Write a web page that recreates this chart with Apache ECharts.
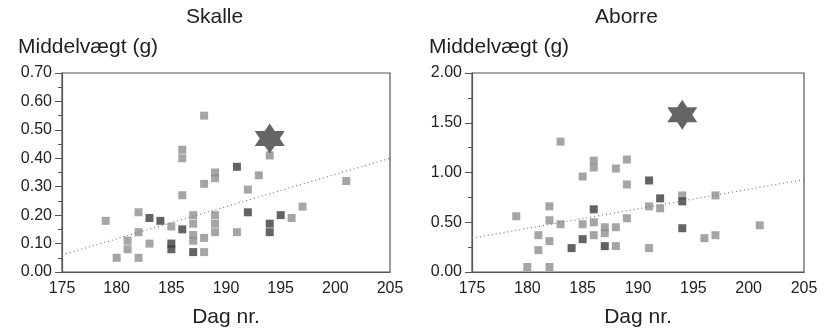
<!DOCTYPE html>
<html>
<head>
<meta charset="utf-8">
<script src="https://cdn.jsdelivr.net/npm/echarts@6/dist/echarts.min.js"></script>
<style>
  html, body { margin: 0; padding: 0; background: #fff; }
  #chart { width: 824px; height: 333px; }
</style>
</head>
<body>
<div id="chart"></div>
<script>
// Skalle: [dag, middelvægt]
const skalleLight = [
  [179, 0.18], [180, 0.05], [181, 0.11], [181, 0.08], [182, 0.21], [182, 0.14],
  [182, 0.05], [183, 0.10], [185, 0.16], [186, 0.43], [186, 0.40], [186, 0.27],
  [187, 0.20], [187, 0.17], [187, 0.13], [187, 0.11], [188, 0.55], [188, 0.31],
  [188, 0.12], [188, 0.07], [189, 0.35], [189, 0.33], [189, 0.20], [189, 0.17],
  [189, 0.14], [191, 0.14], [192, 0.29], [193, 0.34], [194, 0.41], [196, 0.19],
  [197, 0.23], [201, 0.32]
]
const skalleDark = [
  [183, 0.19], [184, 0.18], [185, 0.10], [185, 0.08], [186, 0.15], [187, 0.07],
  [191, 0.37], [192, 0.21], [194, 0.17], [194, 0.14], [195, 0.20]
]
const skalleStar = [[194, 0.47]]
const skalleTrend = [[175, 0.06], [205, 0.40]]

// Aborre: [dag, middelvægt]
const aborreLight = [
  [179, 0.56], [180, 0.05], [181, 0.37], [181, 0.22], [182, 0.66], [182, 0.52],
  [182, 0.31], [182, 0.05], [183, 1.31], [183, 0.48], [185, 0.96], [185, 0.48],
  [186, 1.12], [186, 1.05], [186, 0.50], [186, 0.37], [187, 0.45], [187, 0.39],
  [188, 1.04], [188, 0.45], [188, 0.26], [189, 1.13], [189, 0.88], [189, 0.54],
  [191, 0.66], [191, 0.24], [192, 0.64], [194, 0.77], [196, 0.34], [197, 0.77],
  [197, 0.37], [201, 0.47]
]
const aborreDark = [
  [184, 0.24], [185, 0.33], [186, 0.63], [187, 0.26], [191, 0.92], [192, 0.74],
  [194, 0.71], [194, 0.44]
]
const aborreStar = [[194, 1.58]]
const aborreTrend = [[175, 0.34], [205, 0.93]]

const xTicks = [175, 180, 185, 190, 195, 200, 205]

const FONT = 'Liberation Sans'
const TEXT = '#222'
const AXIS = '#555'
const LIGHT = '#8e8e8e'
const DARK = '#3c3c3c'
// sekstakket stjerne
const STAR = 'path://M50,0 L64.43,25 L93.3,25 L78.87,50 L93.3,75 L64.43,75 L50,100 L35.57,75 L6.7,75 L21.13,50 L6.7,25 L35.57,25 Z'

function xAxisFor(gridIndex) {
  return {
    type: 'value',
    gridIndex,
    min: xTicks[0],
    max: xTicks[xTicks.length - 1],
    interval: 5,
    name: 'Dag nr.',
    nameLocation: 'middle',
    nameGap: 35,
    nameTextStyle: { fontFamily: FONT, fontSize: 21, color: TEXT },
    axisLine: { show: true, lineStyle: { color: AXIS, width: 1.2 } },
    axisTick: { show: false },
    splitLine: { show: false },
    axisLabel: { fontFamily: FONT, fontSize: 16, color: TEXT, margin: 9 }
  }
}

function yAxisFor(gridIndex, max, interval) {
  return {
    type: 'value',
    gridIndex,
    min: 0,
    max,
    interval,
    axisLine: { show: true, lineStyle: { color: AXIS, width: 1.2 } },
    axisTick: { show: true, length: 7, lineStyle: { color: AXIS } },
    minorTick: { show: true, splitNumber: 2, length: 4, lineStyle: { color: AXIS } },
    splitLine: { show: false },
    axisLabel: {
      fontFamily: FONT, fontSize: 16, color: TEXT, margin: 10,
      formatter: (v) => v.toFixed(2)
    }
  }
}

function panelSeries(idx, light, dark, star, trend) {
  return [
    {
      type: 'line', xAxisIndex: idx, yAxisIndex: idx, data: trend,
      symbol: 'none', silent: true,
      lineStyle: { color: '#777', width: 1.2, type: [1, 3] }
    },
    {
      type: 'scatter', xAxisIndex: idx, yAxisIndex: idx, data: light,
      symbol: 'rect', symbolSize: 8,
      itemStyle: { color: LIGHT }
    },
    {
      type: 'scatter', xAxisIndex: idx, yAxisIndex: idx, data: dark,
      symbol: 'rect', symbolSize: 8,
      itemStyle: { color: DARK }
    },
    {
      type: 'scatter', xAxisIndex: idx, yAxisIndex: idx, data: star,
      symbol: STAR, symbolSize: [30, 30],
      itemStyle: { color: '#3e3e3e' }
    }
  ]
}

const chart = echarts.init(document.getElementById('chart'), null, { renderer: 'canvas' })
chart.setOption({
  animation: false,
  backgroundColor: '#fff',
  title: [
    { text: 'Skalle', left: 181, top: 2, textStyle: { fontFamily: FONT, fontSize: 21, fontWeight: 'normal', color: TEXT } },
    { text: 'Middelvægt (g)', left: 13, top: 32, textStyle: { fontFamily: FONT, fontSize: 21, fontWeight: 'normal', color: TEXT } },
    { text: 'Aborre', left: 590, top: 2, textStyle: { fontFamily: FONT, fontSize: 21, fontWeight: 'normal', color: TEXT } },
    { text: 'Middelvægt (g)', left: 424, top: 32, textStyle: { fontFamily: FONT, fontSize: 21, fontWeight: 'normal', color: TEXT } }
  ],
  grid: [
    { left: 62, top: 73, width: 328, height: 205, show: true, borderColor: AXIS, borderWidth: 1.2 },
    { left: 472, top: 73, width: 332, height: 207, show: true, borderColor: AXIS, borderWidth: 1.2 }
  ],
  xAxis: [xAxisFor(0), xAxisFor(1)],
  yAxis: [yAxisFor(0, 0.7, 0.1), yAxisFor(1, 2, 0.5)],
  series: [
    ...panelSeries(0, skalleLight, skalleDark, skalleStar, skalleTrend),
    ...panelSeries(1, aborreLight, aborreDark, aborreStar, aborreTrend)
  ]
})
</script>
</body>
</html>
